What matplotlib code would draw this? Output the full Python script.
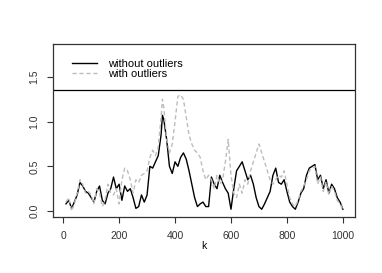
import numpy as np
import matplotlib.pyplot as plt

plt.rcParams['font.family'] = ['Liberation Sans', 'DejaVu Sans']

k = [10, 20, 30, 40, 50, 60, 70, 80, 90, 100,
     110, 120, 130, 140, 150, 160, 170, 180, 190, 200,
     210, 220, 230, 240, 250, 260, 270, 280, 290, 300,
     310, 320, 330, 340, 350, 355, 360, 370, 380, 390, 400,
     410, 420, 430, 440, 450, 460, 470, 480, 490, 500,
     510, 520, 530, 540, 550, 560, 570, 580, 590, 600,
     610, 620, 630, 640, 650, 660, 670, 680, 690, 700,
     710, 720, 730, 740, 750, 760, 770, 780, 790, 800,
     810, 820, 830, 840, 850, 860, 870, 880, 890, 900,
     910, 920, 930, 940, 950, 960, 970, 980, 990, 1000]

without_outliers = [0.08, 0.12, 0.03, 0.10, 0.18, 0.32, 0.28, 0.22, 0.20, 0.15,
                    0.10, 0.22, 0.28, 0.12, 0.08, 0.20, 0.25, 0.38, 0.25, 0.30,
                    0.12, 0.28, 0.22, 0.25, 0.15, 0.03, 0.05, 0.18, 0.10, 0.18,
                    0.50, 0.48, 0.55, 0.62, 0.85, 1.07, 1.02, 0.80, 0.50, 0.42, 0.55,
                    0.50, 0.60, 0.65, 0.58, 0.45, 0.30, 0.15, 0.05, 0.08, 0.10,
                    0.05, 0.05, 0.38, 0.30, 0.25, 0.40, 0.32, 0.25, 0.20, 0.02,
                    0.25, 0.45, 0.50, 0.55, 0.45, 0.35, 0.40, 0.30, 0.15, 0.05,
                    0.02, 0.08, 0.15, 0.22, 0.40, 0.48, 0.32, 0.30, 0.35, 0.22,
                    0.10, 0.05, 0.02, 0.10, 0.20, 0.25, 0.40, 0.48, 0.50, 0.52,
                    0.35, 0.40, 0.25, 0.35, 0.20, 0.30, 0.25, 0.15, 0.10, 0.02]

with_outliers = [0.10, 0.15, 0.00, 0.08, 0.20, 0.35, 0.30, 0.20, 0.22, 0.18,
                 0.08, 0.25, 0.20, 0.05, 0.12, 0.30, 0.20, 0.18, 0.25, 0.08,
                 0.35, 0.48, 0.45, 0.35, 0.20, 0.35, 0.32, 0.40, 0.42, 0.45,
                 0.60, 0.68, 0.62, 0.72, 1.05, 1.25, 1.15, 0.80, 0.65, 0.75, 1.00,
                 1.28, 1.30, 1.25, 1.05, 0.85, 0.75, 0.68, 0.65, 0.60, 0.45,
                 0.35, 0.40, 0.35, 0.25, 0.40, 0.30, 0.35, 0.55, 0.80, 0.40,
                 0.20, 0.15, 0.30, 0.20, 0.35, 0.30, 0.45, 0.55, 0.65, 0.75,
                 0.65, 0.55, 0.45, 0.35, 0.30, 0.35, 0.40, 0.38, 0.45, 0.30,
                 0.15, 0.08, 0.05, 0.12, 0.22, 0.28, 0.35, 0.45, 0.48, 0.50,
                 0.30, 0.38, 0.22, 0.33, 0.18, 0.28, 0.22, 0.12, 0.08, 0.02]

legend_top = 1.35

fig = plt.figure(figsize=(3.82, 2.73), dpi=100)
ax = fig.add_axes([0.139, 0.205, 0.790, 0.634])

ax.plot(k, without_outliers, color='black', lw=1.0, label='without outliers')
ax.plot(k, with_outliers, color='#bdbdbd', lw=1.0, ls=(0, (3, 2)),
        label='with outliers')

# legend box spans the top of the panel
ax.axhline(legend_top, color='black', lw=0.9)
ax.legend(loc='upper left', frameon=False, fontsize=8, handlelength=2.2,
          handletextpad=1.0, borderaxespad=0.5, labelspacing=0.0,
          bbox_to_anchor=(0.03, 0.97))

ax.set_xlim(-36, 1043)
ax.set_ylim(-0.067, 1.868)
ax.set_xticks([0, 200, 400, 600, 800, 1000])
ax.set_yticks([0.0, 0.5, 1.0, 1.5])
ax.set_yticklabels(['0.0', '0.5', '1.0', '1.5'], rotation=90, va='center')
ax.tick_params(labelsize=7.5, length=4, width=0.8, pad=6, colors='#333333')
ax.set_xlabel('k', fontsize=7.5, labelpad=0)
for s in ax.spines.values():
    s.set_linewidth(0.9)
    s.set_color('#333333')

fig.savefig('out.png', dpi=100)
